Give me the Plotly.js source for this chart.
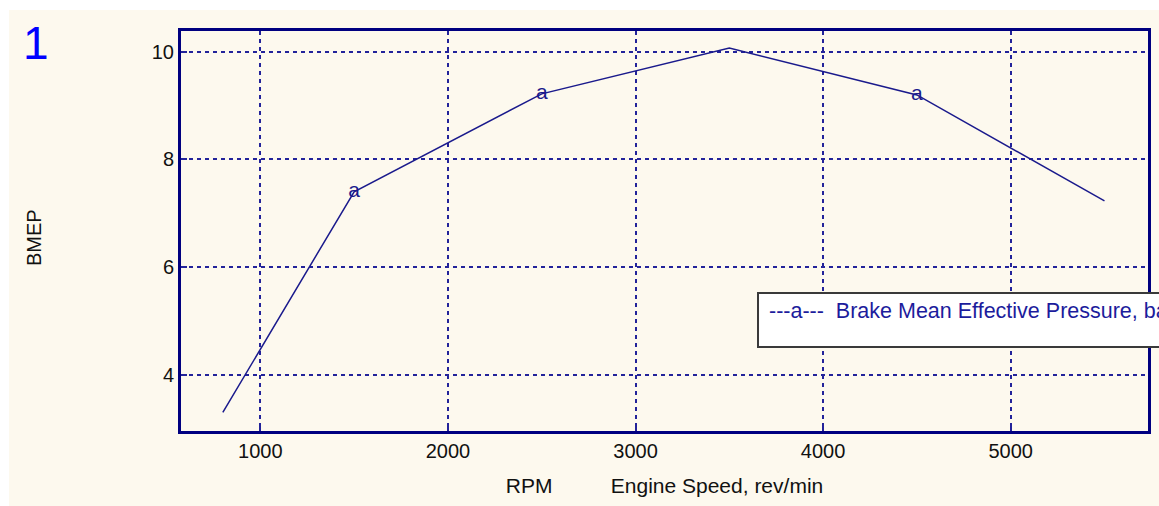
<!DOCTYPE html>
<html>
<head>
<meta charset="utf-8">
<script src="https://cdn.plot.ly/plotly-3.0.1.min.js"></script>
<style>
  html, body { margin:0; padding:0; background:#ffffff; width:1159px; height:506px; overflow:hidden; }
  #chart { position:absolute; left:9px; top:10px; width:1150px; height:496px; }
</style>
</head>
<body>
<div id="chart"></div>
<script>
// Data
const rpm = [800, 1500, 2500, 3500, 4500, 5500];
const bmep = [3.30, 7.40, 9.22, 10.07, 9.20, 7.23];
const markerLabels = ['', 'a', 'a', '', 'a', ''];
const xTicks = [1000, 2000, 3000, 4000, 5000];
const yTicks = [4, 6, 8, 10];
const seriesName = 'Brake Mean Effective Pressure, bar';
const xTitle = 'RPM';
const xSubTitle = 'Engine Speed, rev/min';
const yTitle = 'BMEP';
const panelNumber = '1';

const NAVY = '#000080';
const LINE = '#1a1a8c';
const GRID = '#23239a';
const BG = '#fdf9ee';
const FONT = 'Liberation Sans, Arial, sans-serif';
const NB = '\u00a0';

const trace = {
  x: rpm,
  y: bmep,
  mode: 'lines+text',
  text: markerLabels,
  textposition: 'middle center',
  textfont: { family: FONT, size: 21, color: LINE },
  line: { color: LINE, width: 1.5 },
  name: seriesName,
  showlegend: false,
  hoverinfo: 'x+y'
};

const axisCommon = {
  showline: true,
  linecolor: NAVY,
  linewidth: 3,
  mirror: true,
  ticks: 'inside',
  ticklen: 6,
  tickwidth: 2,
  tickcolor: GRID,
  showgrid: true,
  gridcolor: GRID,
  gridwidth: 2,
  griddash: '4px,4px',
  zeroline: false,
  tickfont: { family: FONT, size: 20, color: '#111111' }
};

const layout = {
  width: 1150,
  height: 496,
  margin: { l: 172, r: 11, t: 21, b: 75 },
  paper_bgcolor: BG,
  plot_bgcolor: BG,
  showlegend: false,
  xaxis: Object.assign({}, axisCommon, {
    range: [577, 5732],
    tickvals: xTicks,
    ticktext: xTicks.map(String),
    title: {
      text: xTitle + NB.repeat(10) + xSubTitle,
      font: { family: FONT, size: 21, color: '#111111' },
      standoff: 18
    }
  }),
  yaxis: Object.assign({}, axisCommon, {
    range: [2.953, 10.388],
    tickvals: yTicks,
    ticktext: yTicks.map(String)
  }),
  shapes: [
    {
      type: 'rect', xref: 'paper', yref: 'paper', layer: 'above',
      x0: 0.5967, x1: 1.2, y0: 0.21, y1: 0.345,
      fillcolor: '#ffffff',
      line: { color: '#3a3a3a', width: 2 }
    }
  ],
  annotations: [
    {
      xref: 'paper', yref: 'paper', x: 0.606, y: 0.30,
      xanchor: 'left', yanchor: 'middle', showarrow: false,
      text: '---a---' + NB + NB + seriesName,
      font: { family: FONT, size: 21.5, color: '#1c1c9c' }
    },
    {
      xref: 'paper', yref: 'paper', x: -0.152, y: 0.4825,
      xanchor: 'center', yanchor: 'middle', showarrow: false,
      textangle: -90,
      text: yTitle,
      font: { family: FONT, size: 20, color: '#111111' }
    },
    {
      xref: 'paper', yref: 'paper', x: -0.15, y: 0.969,
      xanchor: 'center', yanchor: 'middle', showarrow: false,
      text: panelNumber,
      font: { family: FONT, size: 46, color: '#0000ff' }
    }
  ]
};

Plotly.newPlot('chart', [trace], layout, { displayModeBar: false, staticPlot: true });
</script>
</body>
</html>
